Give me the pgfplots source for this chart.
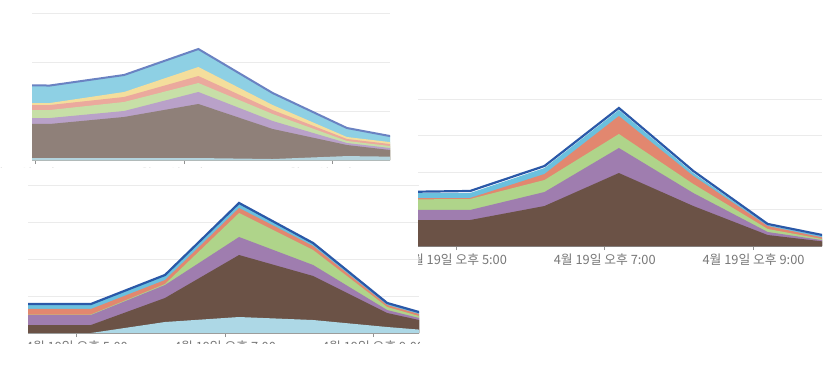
\documentclass[border=0pt]{standalone}
\usepackage{fontspec}
\usepackage{pgfplots}
\pgfplotsset{compat=1.18}
\newfontfamily\kr{Noto Sans CJK KR}
% faded palette (top-left panel)
\definecolor{aBrown}{HTML}{8F8079}
\definecolor{aPurple}{HTML}{B9A1C9}
\definecolor{aGreen}{HTML}{C7DFA7}
\definecolor{aPink}{HTML}{EBA99D}
\definecolor{aYellow}{HTML}{F4DE9C}
\definecolor{aBlue}{HTML}{8ED0E4}
\definecolor{aLine}{HTML}{6A82C2}
\definecolor{aBase}{HTML}{B3D3DD}
% strong palette
\definecolor{bBrown}{HTML}{6B5246}
\definecolor{bPurple}{HTML}{9F7DAF}
\definecolor{bGreen}{HTML}{AFD48A}
\definecolor{bSalmon}{HTML}{E2876F}
\definecolor{bBlue}{HTML}{6BC0DE}
\definecolor{bLight}{HTML}{ADD8E6}
\definecolor{bLine}{HTML}{2A58A8}
\definecolor{gridc}{HTML}{EBEBEB}
\definecolor{tickc}{HTML}{777777}
\begin{document}
\begin{tikzpicture}
\useasboundingbox (0pt,0pt) rectangle (837pt,373pt);
\fill[white] (0pt,0pt) rectangle (837pt,373pt);
\pgfplotsset{panel/.style={
  scale only axis, anchor=south west,
  axis x line*=bottom, axis y line*=left,
  y axis line style={draw=none}, ytick style={draw=none}, yticklabels={,,},
  ymajorgrids, grid style={draw=gridc, line width=0.9pt},
  xtick={5,7,9},
  xticklabels={4월 19일 오후 5:00,4월 19일 오후 7:00,4월 19일 오후 9:00},
  xticklabel style={font=\kr\fontsize{12.8}{14}\selectfont, text=tickc},
  tick align=outside, major tick length=4pt,
  xtick style={draw=tickc!80, line width=0.8pt},
  x axis line style={-, draw=gray!75, line width=1.5pt},
  ymin=0}}

% ---------- top-left panel (faded) ----------
\begin{scope}
\clip (0pt,206pt) rectangle (418pt,373pt);
\begin{axis}[panel, at={(32pt,213pt)}, width=358pt, height=147pt,
  xmin=4.95, xmax=9.77, ymax=3, ytick={1,2,3},
  x axis line style={-, draw=aBase!80!gray, line width=2.5pt},
  xticklabel style={text=tickc!35}]
\addplot[fill=aBlue, draw=none] coordinates {(4.19,1.53)(5.19,1.52)(6.19,1.735)(7.19,2.265)(8.19,1.367)(9.19,0.653)(10.19,0.37)} \closedcycle;
\addplot[fill=aYellow, draw=none] coordinates {(4.19,1.163)(5.19,1.163)(6.19,1.388)(7.19,1.898)(8.19,1.122)(9.19,0.469)(10.19,0.29)} \closedcycle;
\addplot[fill=aPink, draw=none] coordinates {(4.19,1.122)(5.19,1.122)(6.19,1.286)(7.19,1.714)(8.19,1.02)(9.19,0.429)(10.19,0.25)} \closedcycle;
\addplot[fill=aGreen, draw=none] coordinates {(4.19,1.02)(5.19,1.02)(6.19,1.184)(7.19,1.571)(8.19,0.939)(9.19,0.388)(10.19,0.21)} \closedcycle;
\addplot[fill=aPurple, draw=none] coordinates {(4.19,0.857)(5.19,0.857)(6.19,1.0)(7.19,1.388)(8.19,0.796)(9.19,0.347)(10.19,0.17)} \closedcycle;
\addplot[fill=aBrown, draw=none] coordinates {(4.19,0.735)(5.19,0.735)(6.19,0.878)(7.19,1.143)(8.19,0.633)(9.19,0.306)(10.19,0.13)} \closedcycle;
\addplot[fill=aBase, draw=none] coordinates {(4.19,0.04)(5.19,0.04)(6.19,0.04)(7.19,0.04)(8.19,0.02)(9.19,0.08)(10.19,0.06)} \closedcycle;
\addplot[draw=aLine, line width=2pt] coordinates {(4.19,1.53)(5.19,1.52)(6.19,1.735)(7.19,2.265)(8.19,1.367)(9.19,0.653)(10.19,0.37)};
\end{axis}
\end{scope}

% ---------- bottom-left panel ----------
\begin{scope}
\clip (0pt,30pt) rectangle (419pt,206pt);
\begin{axis}[panel, at={(28pt,40pt)}, width=391pt, height=148pt,
  xmin=4.34, xmax=9.62, ymax=4, ytick={1,2,3,4}]
\addplot[fill=bBlue, draw=none] coordinates {(4.19,0.784)(5.19,0.784)(6.19,1.568)(7.19,3.514)(8.19,2.432)(9.19,0.811)(10.19,0.243)} \closedcycle;
\addplot[fill=bSalmon, draw=none] coordinates {(4.19,0.649)(5.19,0.649)(6.19,1.432)(7.19,3.378)(8.19,2.351)(9.19,0.757)(10.19,0.19)} \closedcycle;
\addplot[fill=bGreen, draw=none] coordinates {(4.19,0.5)(5.19,0.5)(6.19,1.324)(7.19,3.243)(8.19,2.243)(9.19,0.703)(10.19,0.135)} \closedcycle;
\addplot[fill=bPurple, draw=none] coordinates {(4.19,0.486)(5.19,0.486)(6.19,1.297)(7.19,2.595)(8.19,1.838)(9.19,0.622)(10.19,0.12)} \closedcycle;
\addplot[fill=bBrown, draw=none] coordinates {(4.19,0.216)(5.19,0.216)(6.19,0.946)(7.19,2.108)(8.19,1.541)(9.19,0.541)(10.19,0.10)} \closedcycle;
\addplot[fill=bLight, draw=none] coordinates {(4.19,0)(5.19,0)(6.19,0.297)(7.19,0.432)(8.19,0.351)(9.19,0.162)(10.19,0)} \closedcycle;
\addplot[draw=bLine, line width=2.2pt] coordinates {(4.19,0.784)(5.19,0.784)(6.19,1.568)(7.19,3.514)(8.19,2.432)(9.19,0.811)(10.19,0.243)};
\end{axis}
\end{scope}

% ---------- right panel ----------
\begin{scope}
\clip (418pt,0pt) rectangle (837pt,293pt);
\begin{axis}[panel, at={(418pt,127pt)}, width=404pt, height=147pt,
  xmin=4.49, xmax=9.92, ymax=4, ytick={1,2,3,4},
  x axis line style={-, draw=gray!90!black, line width=1.5pt}]
\addplot[fill=bBlue, draw=none] coordinates {(4.19,1.442)(5.19,1.442)(6.19,2.122)(7.19,3.701)(8.19,1.986)(9.19,0.571)(10.19,0.163)} \closedcycle;
\addplot[fill=bSalmon, draw=none] coordinates {(4.19,1.306)(5.19,1.306)(6.19,1.959)(7.19,3.537)(8.19,1.905)(9.19,0.544)(10.19,0.122)} \closedcycle;
\addplot[fill=bGreen, draw=none] coordinates {(4.19,1.265)(5.19,1.279)(6.19,1.796)(7.19,3.048)(8.19,1.687)(9.19,0.463)(10.19,0.09)} \closedcycle;
\addplot[fill=bPurple, draw=none] coordinates {(4.19,0.98)(5.19,0.98)(6.19,1.469)(7.19,2.667)(8.19,1.442)(9.19,0.381)(10.19,0.08)} \closedcycle;
\addplot[fill=bBrown, draw=none] coordinates {(4.19,0.707)(5.19,0.707)(6.19,1.088)(7.19,1.986)(8.19,1.088)(9.19,0.299)(10.19,0.063)} \closedcycle;
\addplot[draw=bLine, line width=2.2pt] coordinates {(4.19,1.469)(5.19,1.497)(6.19,2.177)(7.19,3.755)(8.19,2.041)(9.19,0.599)(10.19,0.19)};
\end{axis}
\end{scope}
\end{tikzpicture}
\end{document}
